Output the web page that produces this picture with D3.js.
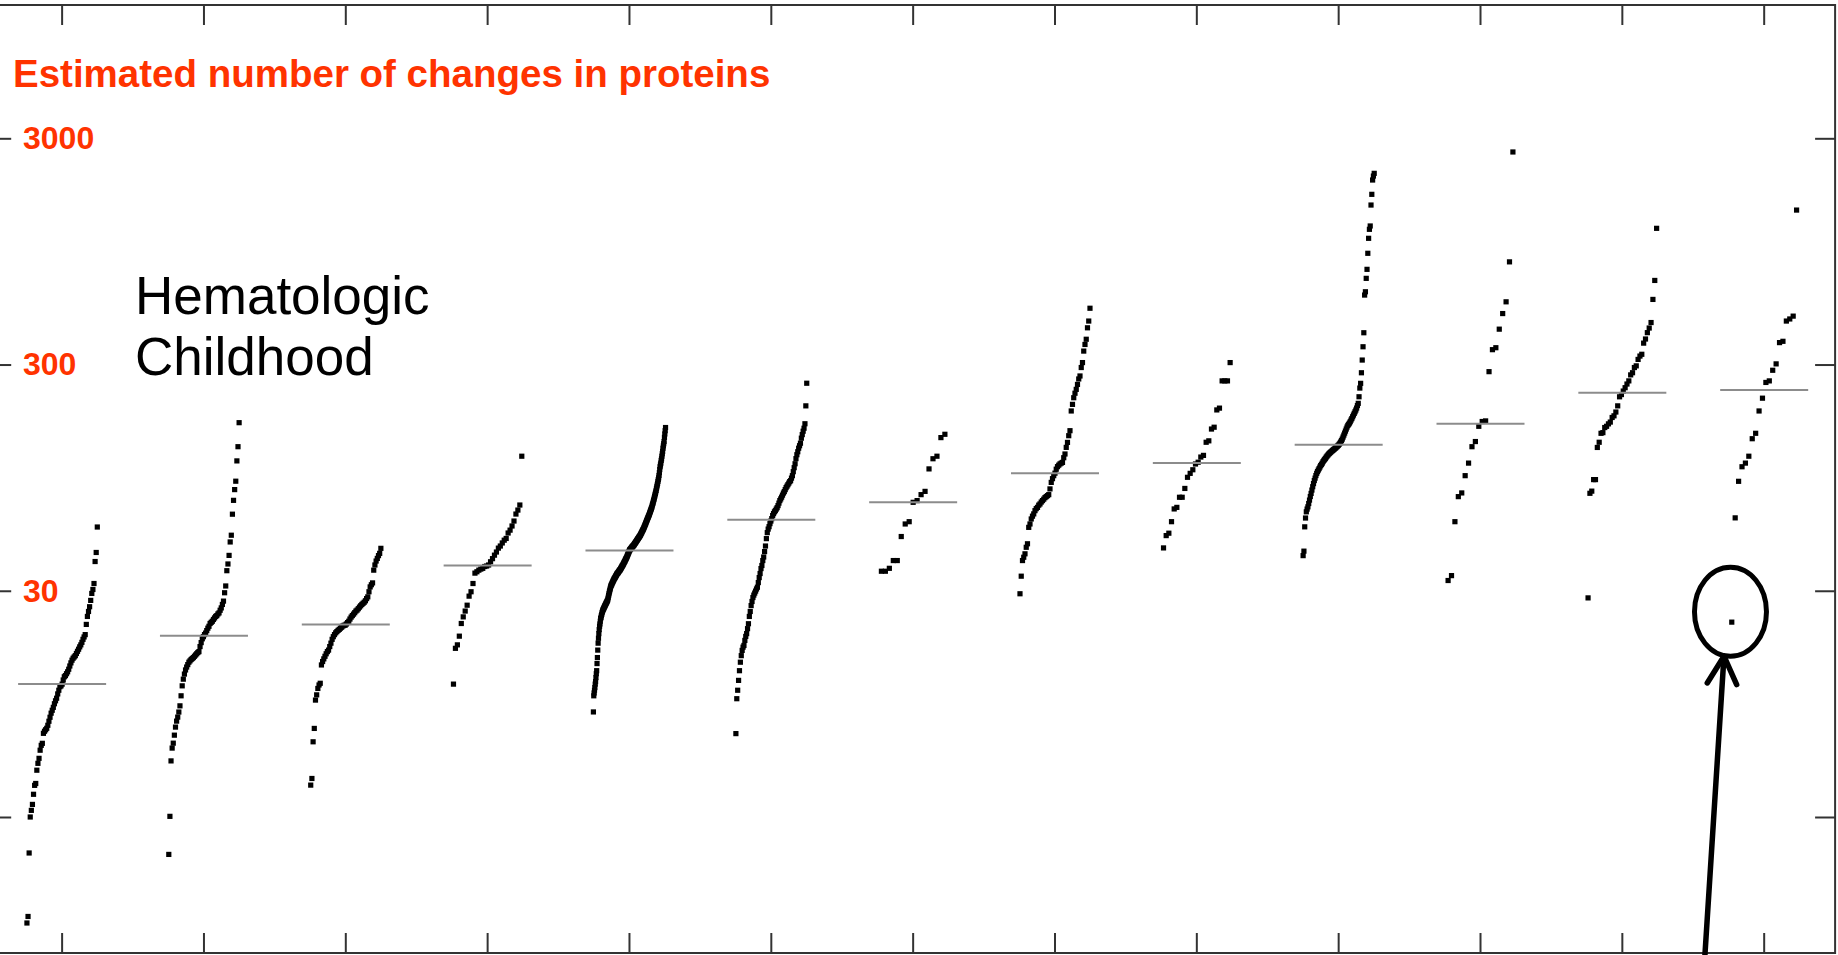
<!DOCTYPE html>
<html>
<head>
<meta charset="utf-8">
<script src="https://cdn.jsdelivr.net/npm/d3@7"></script>
<style>
  html, body { margin: 0; padding: 0; background: #fff; overflow: hidden; }
  svg { display: block; }
</style>
</head>
<body>
<svg id="chart" width="1838" height="955"></svg>
<script>
// Estimated protein-changing mutations per tumour, sorted ascending within each column.
const s01 = [1.02, 1.09, 2.08, 3.0, 3.21, 3.41, 3.78, 4.14, 4.22, 4.83, 5.18, 5.45, 5.92, 6.22, 6.35, 7.03, 7.18, 7.29, 7.4, 7.63, 7.95, 8.28, 8.63, 8.89, 9.16, 9.5, 9.79, 10.05, 10.5, 10.9, 11.3, 11.4, 11.6, 12.1, 12.5, 12.65, 12.9, 13.15, 13.5, 13.95, 14.4, 14.8, 15.1, 15.3, 15.5, 15.85, 16.2, 16.55, 16.95, 17.3, 17.75, 18.3, 18.75, 19.2, 21.3, 23.1, 24.3, 25.5, 27.2, 29.2, 30.4, 32.3, 40.4, 44.3, 57.4];
const s02 = [2.05, 3.02, 5.31, 6.05, 6.36, 6.9, 7.49, 7.96, 8.29, 8.73, 9.3, 10.3, 11.4, 12.2, 12.85, 13.4, 13.8, 14.15, 14.5, 14.7, 14.9, 15.05, 15.2, 15.4, 15.6, 15.8, 16.0, 16.15, 17.0, 17.7, 18.4, 18.8, 19.2, 19.5, 20.0, 20.5, 20.9, 21.5, 21.75, 22.0, 22.4, 22.75, 23.1, 23.3, 23.7, 23.95, 24.6, 25.2, 26.1, 27.0, 29.4, 31.5, 36.8, 39.4, 43.0, 49.3, 52.8, 65.4, 75.3, 84.0, 91.5, 112.5, 130, 166];
const s03 = [4.15, 4.44, 6.45, 7.39, 9.86, 10.4, 11.1, 11.5, 11.7, 14.1, 14.6, 15.0, 15.4, 15.8, 16.15, 16.4, 17.0, 17.6, 18.3, 18.8, 19.2, 19.55, 19.8, 20.05, 20.25, 20.5, 20.7, 20.95, 21.1, 21.15, 21.4, 21.7, 22.0, 22.5, 22.95, 23.3, 23.65, 24.0, 24.4, 24.65, 25.0, 25.4, 25.75, 26.1, 26.4, 26.7, 27.1, 27.7, 28.2, 29.7, 31.2, 31.9, 32.5, 37.0, 39.0, 40.6, 41.7, 42.9, 43.9, 46.2];
const s04 = [11.6, 16.7, 17.3, 18.9, 21.5, 23.0, 24.4, 25.9, 28.4, 29.7, 32.3, 35.9, 36.4, 37.0, 37.4, 37.7, 38.4, 38.6, 39.0, 40.3, 41.6, 43.1, 44.5, 46.3, 47.3, 48.8, 50.2, 51.1, 54.0, 55.6, 58.0, 61.0, 65.5, 68.2, 71.8, 118];
const s05 = [8.74, 10.3, 10.6, 10.9, 11.2, 11.6, 11.9, 12.4, 12.9, 13.3,
  14.3, 15.2, 16.4, 17.6, 18.5, 19.4, 20.2, 20.9, 21.4, 22.0,
  22.6, 22.9, 23.3, 23.6, 24.0, 24.3, 24.6, 24.8, 25.0, 25.2,
  25.4, 25.6, 25.8, 26.0, 26.2, 26.4, 26.6, 26.8, 27.0, 27.2,
  27.6, 28.1, 28.6, 29.1, 29.6, 30.0, 30.5, 30.9, 31.4, 31.7,
  31.9, 32.2, 32.5, 32.7, 33.0, 33.3, 33.5, 33.8, 34.0, 34.2,
  34.4, 34.7, 34.9, 35.1, 35.4, 35.6, 35.8, 35.9, 36.1, 36.3,
  36.5, 36.7, 36.9, 37.1, 37.2, 37.5, 37.7, 38.0, 38.2, 38.5,
  38.7, 38.9, 39.2, 39.5, 39.8, 40.1, 40.4, 40.6, 41.0, 41.3,
  41.6, 41.9, 42.2, 42.6, 43.0, 43.4, 43.8, 44.2, 44.6, 45.0,
  45.4, 45.6, 45.8, 46.0, 46.2, 46.4, 46.7, 46.9, 47.1, 47.3,
  47.5, 47.7, 47.9, 48.2, 48.5, 48.7, 49.0, 49.3, 49.5, 49.9,
  50.1, 50.4, 50.7, 51.0, 51.2, 51.6, 51.8, 52.1, 52.4, 52.7,
  53.1, 53.5, 53.9, 54.2, 54.7, 55.1, 55.5, 55.9, 56.3, 56.8,
  57.3, 57.8, 58.4, 58.9, 59.4, 60.0, 60.6, 61.2, 61.7, 62.3,
  62.9, 63.4, 64.0, 64.6, 65.2, 65.9, 66.6, 67.3, 68.0, 68.7,
  69.4, 70.1, 71.1, 72.1, 73.0, 74.0, 75.1, 76.1, 77.2, 78.4,
  79.6, 80.8, 82.0, 83.3, 84.9, 86.4, 88.0, 89.5, 91.3, 93.0,
  94.7, 97.0, 99.8, 103, 106, 108, 110, 113, 115, 118,
  121, 124, 128, 131, 134, 137, 143, 148, 153, 158];
const s06 = [7.01, 10.0, 10.9, 12.05, 13.3, 14.5, 15.5, 16.35, 16.9, 17.2,
  18.1, 18.85, 19.4, 20.4, 21.45, 23.1, 24.3, 25.8, 26.9, 28.0,
  28.7, 29.3, 29.9, 30.55, 31.1, 32.6, 34.3, 35.75, 37.6, 38.8,
  40.8, 42.3, 44.7, 47.3, 51.0, 54.2, 56.2, 57.6, 59.4, 61.0,
  62.5, 64.5, 65.8, 67.0, 67.8, 68.9, 69.9, 71.4, 73.2, 75.1,
  76.4, 77.8, 79.4, 81.1, 82.3, 84.0, 85.7, 87.0, 88.3, 89.7,
  91.1, 92.0, 94.4, 96.8, 100.8, 105, 109.3, 115.1, 119.8, 123.5,
  128, 131.3, 134.7, 141.8, 147, 152.2, 156.9, 164.2, 197, 248];
const s07 = [36.6, 36.6, 37.7, 40.8, 40.8, 52.1, 59.2, 60.6, 73.8, 75.1, 79.8, 82.5, 103.7, 115, 118, 142.6, 147.5];
const s08 = [29.1, 34.8, 40.8, 42.2, 43.7, 46.7, 48.4, 57.2, 59.2, 62.3, 64.1, 65.6, 67.8, 69.2, 70.1, 71.7, 72.6, 74.0, 75.1, 76.2, 77.4, 78.2, 79.0, 79.8, 84.6, 90.4, 93.9, 96.8, 99.3, 103.4, 106.1, 107.7, 109.1, 110.0, 110.8, 116.2, 120.7, 129.1, 135.8, 145.4, 153, 187, 200, 214, 224, 233, 245, 259, 267, 291, 306, 344, 368, 388, 436, 467, 532];
const s09 = [46.4, 52.6, 53.9, 60.6, 69.0, 70.1, 77.7, 77.7, 85.0, 95.2, 99.1, 102.8, 109, 111, 117, 119, 136, 138, 155.6, 158.5, 189, 192.5, 254, 254, 254, 306];
const s10 = [42.9, 44.9, 57.5, 62.9, 67.0, 68.9, 70.5, 72.9, 75.5, 78.3,
  80.8, 83.6, 86.5, 89.3, 92.1, 94.4, 96.9, 99.1, 100.9, 102.5,
  104.0, 105.7, 107.3, 108.6, 110.0, 111.7, 113.1, 114.3, 115.5, 117.0,
  118.2, 119.4, 120.6, 121.6, 122.5, 123.5, 124.3, 125.2, 126.1, 126.9,
  127.8, 128.8, 129.8, 130.8, 131.8, 133.1, 134.6, 136.3, 138.4, 140.5,
  143.4, 146.3, 149.3, 152.4, 155.6, 158.8, 161.5, 163.3, 165.3, 167.6,
  170.5, 173.1, 176.3, 179.4, 182.5, 185.5, 188.8, 192.6, 197.6, 202.1,
  216.1, 236.1, 247.7, 275.9, 314, 359.5, 414.6, 608.4, 629.2, 721.2,
  790.5, 930.7, 1084, 1188, 1229, 1521, 1696, 1962, 2043, 2100];
const s11 = [33.3, 35.0, 60.6, 78.2, 81.2, 96.8, 110, 130, 137, 160, 168, 169, 279, 349, 356, 430, 504, 568, 853, 2610];
const s12 = [27.9, 80.9, 82.7, 93, 93, 129, 136, 149, 150, 158, 160, 164, 167, 175, 178, 185, 197, 216, 221, 229, 237, 246, 254, 270, 276, 291, 296, 316, 327, 333, 373, 389, 415, 435, 460, 582, 706, 1200];
const s13 = [21.8, 63.0, 91.4, 106, 110, 118, 141, 149, 187, 213, 250, 254, 283, 302, 375, 380, 467, 477, 491, 1445];

const series = [s01, s02, s03, s04, s05, s06, s07, s08, s09, s10, s11, s12, s13];
const categories = d3.range(series.length);

const yTickValues = [3, 30, 300, 3000];
const yTickLabels = ["", "30", "300", "3000"];
const titleText = "Estimated number of changes in proteins";
const noteLines = ["Hematologic", "Childhood"];

// ---- layout ----
const RED = "#ff3300";
const AXIS = "#333";
const frame = { left: -8.8, right: 1835.1, top: 5, bottom: 953 };
const tickLen = 20;
const colHalf = 36.5;     // half width of each column's dot spread
const medHalf = 44;       // half length of the median bar
const dot = 5.2;

const svg = d3.select("#chart");

const x = d3.scaleBand()
  .domain(categories)
  .range([frame.left, frame.right]);

const y = d3.scaleLog()
  .domain([3, 3000])
  .range([817, 138.3]);

const cx = i => x(i) + x.bandwidth() / 2;

// dots
const dotsLayer = svg.append("g");
series.forEach((vals, i) => {
  const n = vals.length;
  const xr = d3.scaleLinear()
    .domain([-1.2, n + 0.2])
    .range([cx(i) - colHalf, cx(i) + colHalf]);
  dotsLayer.append("g")
    .selectAll("rect")
    .data(vals)
    .join("rect")
    .attr("x", (d, k) => xr(k) - dot / 2)
    .attr("y", d => y(d) - dot / 2)
    .attr("width", dot)
    .attr("height", dot)
    .attr("fill", "#000");
});

// median bars
svg.append("g")
  .selectAll("line")
  .data(series.map((vals, i) => ({ i, m: d3.median(vals) })))
  .join("line")
  .attr("x1", d => cx(d.i) - medHalf)
  .attr("x2", d => cx(d.i) + medHalf)
  .attr("y1", d => y(d.m))
  .attr("y2", d => y(d.m))
  .attr("stroke", "#8c8c8c")
  .attr("stroke-width", 2);

// frame
svg.append("rect")
  .attr("x", frame.left)
  .attr("y", frame.top)
  .attr("width", frame.right - frame.left)
  .attr("height", frame.bottom - frame.top)
  .attr("fill", "none")
  .attr("stroke", AXIS)
  .attr("stroke-width", 2);

function styleAxis(g) {
  g.select(".domain").remove();
  g.selectAll(".tick line").attr("stroke", AXIS).attr("stroke-width", 2);
}

// top and bottom ticks, pointing inward
svg.append("g")
  .attr("transform", `translate(0,${frame.top})`)
  .call(d3.axisBottom(x).tickSize(tickLen).tickSizeOuter(0).tickFormat(""))
  .call(styleAxis);
svg.append("g")
  .attr("transform", `translate(0,${frame.bottom})`)
  .call(d3.axisTop(x).tickSize(tickLen).tickSizeOuter(0).tickFormat(""))
  .call(styleAxis);

// right ticks
svg.append("g")
  .attr("transform", `translate(${frame.right},0)`)
  .call(d3.axisLeft(y).tickValues(yTickValues).tickSize(tickLen).tickSizeOuter(0).tickFormat(""))
  .call(styleAxis);

// left ticks with labels
svg.append("g")
  .attr("transform", `translate(${frame.left},0)`)
  .call(d3.axisRight(y)
    .tickValues(yTickValues)
    .tickSize(tickLen)
    .tickSizeOuter(0)
    .tickPadding(11.8)
    .tickFormat((d, i) => yTickLabels[i]))
  .call(styleAxis)
  .call(g => g.selectAll(".tick text")
    .attr("fill", RED)
    .attr("font-family", "'Liberation Sans', Arial, sans-serif")
    .attr("font-weight", "bold")
    .attr("font-size", 32));

// axis title
svg.append("text")
  .attr("x", 13)
  .attr("y", 87)
  .attr("fill", RED)
  .attr("font-family", "'Liberation Sans', Arial, sans-serif")
  .attr("font-weight", "bold")
  .attr("font-size", 38.5)
  .text(titleText);

// group note
svg.append("g")
  .selectAll("text")
  .data(noteLines)
  .join("text")
  .attr("x", 135)
  .attr("y", (d, i) => 313.5 + i * 61)
  .attr("fill", "#000")
  .attr("font-family", "'Liberation Sans', Arial, sans-serif")
  .attr("font-size", 53)
  .text(d => d);

// highlight the lowest tumour of the last column
const lastVals = series[series.length - 1];
const lastIdx = series.length - 1;
const lastX = d3.scaleLinear()
  .domain([-1.2, lastVals.length + 0.2])
  .range([cx(lastIdx) - colHalf, cx(lastIdx) + colHalf]);
const px = lastX(0), py = y(lastVals[0]);
const ell = { cx: px - 1.3, cy: py - 10.4, rx: 36, ry: 44.5 };

svg.append("ellipse")
  .attr("cx", ell.cx)
  .attr("cy", ell.cy)
  .attr("rx", ell.rx)
  .attr("ry", ell.ry)
  .attr("fill", "none")
  .attr("stroke", "#000")
  .attr("stroke-width", 5);

const tip = [ell.cx - 6.5, ell.cy + ell.ry];
const arrow = svg.append("g")
  .attr("fill", "none")
  .attr("stroke", "#000")
  .attr("stroke-width", 5.5)
  .attr("stroke-linecap", "round")
  .attr("stroke-linejoin", "round");
arrow.append("line")
  .attr("x1", tip[0] - 19.5).attr("y1", 962)
  .attr("x2", tip[0]).attr("y2", tip[1]);
arrow.append("polyline")
  .attr("points", [
    [tip[0] - 16.7, tip[1] + 26.7],
    tip,
    [tip[0] + 12.7, tip[1] + 28.3]
  ].map(p => p.join(",")).join(" "));
</script>
</body>
</html>
